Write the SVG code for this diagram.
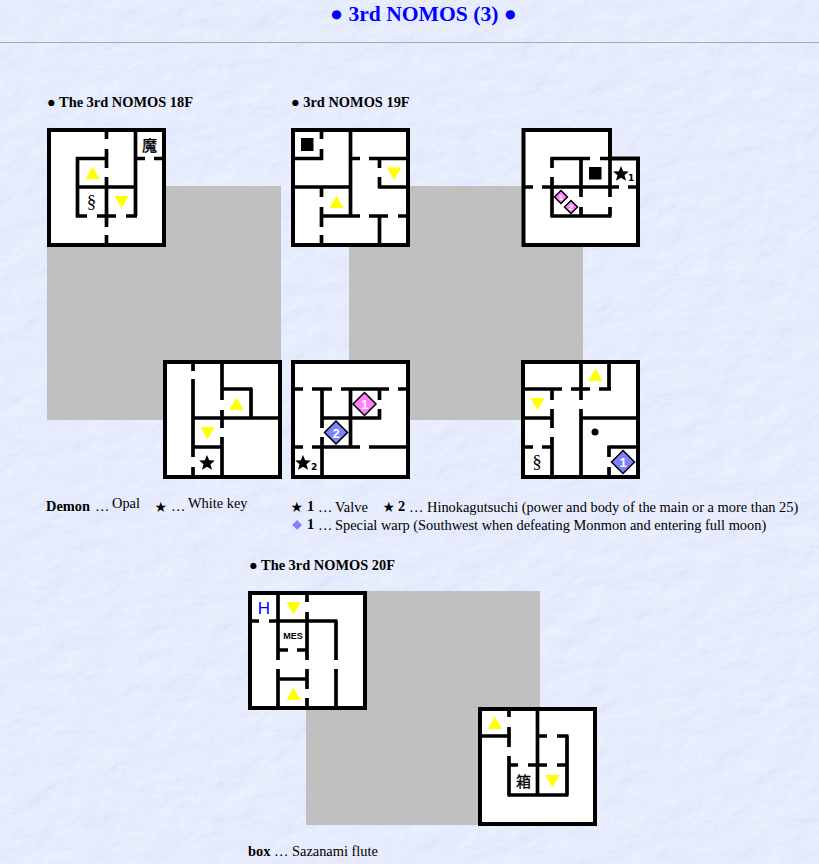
<svg xmlns="http://www.w3.org/2000/svg" width="819" height="864" viewBox="0 0 819 864">
<style>
text{font-family:"Liberation Serif","Noto Sans CJK JP",serif;font-size:14.4px;fill:#000}
.b{font-weight:bold}
.title{font-size:21.6px;font-weight:bold;fill:#0000ff}
.outer{fill:#fff;stroke:#000;stroke-width:4}
.wall{fill:none;stroke:#000;stroke-width:3.7}
.gray{fill:#c0c0c0}
.y{fill:#ffff00}
.k{fill:#000}
.pink{fill:#ff80ff;stroke:#000;stroke-width:1.5}
.blue{fill:#8080ff;stroke:#000;stroke-width:1.5}
.num{font-family:"Liberation Sans",sans-serif;font-weight:bold;fill:#fff;text-anchor:middle}
.sub{font-family:"DejaVu Sans",sans-serif;font-weight:bold;font-size:9px}
.sym{text-anchor:middle}
.kanji{text-anchor:middle;font-size:15px;stroke:#000;stroke-width:.3}
.sec{text-anchor:middle;font-size:19px}
.star{font-size:11.5px}
</style>
<defs>
<filter id="paper" x="0" y="0" width="100%" height="100%" color-interpolation-filters="sRGB">
<feTurbulence type="fractalNoise" baseFrequency="0.03 0.045" numOctaves="4" seed="7"/>
<feDiffuseLighting surfaceScale="1.3" diffuseConstant="1" lighting-color="#fff"><feDistantLight azimuth="45" elevation="60"/></feDiffuseLighting>
<feColorMatrix type="matrix" values="0.3 0 0 0 0.645  0.3 0 0 0 0.665  0.06 0 0 0 0.94  0 0 0 0 1"/>
</filter>
<polygon id="up" points="-7,6 7,6 0,-6.500"/>
<polygon id="dn" points="-7,-6 7,-6 0,6.500"/>
<polygon id="star" points="0,-8 2.200,-2.700 7.800,-2.500 3.500,1.200 5,6.800 0,3.800 -5,6.800 -3.500,1.200 -7.800,-2.500 -2.200,-2.700"/>
<polygon id="dsm" points="0,-6.500 6.500,0 0,6.500 -6.500,0"/>
<polygon id="dlg" points="0,-11.500 11.500,0 0,11.500 -11.500,0"/>
</defs>
<rect id="page-bg" width="819" height="864" fill="#e6eaff" filter="url(#paper)"/>
<text class="title" x="330" y="21">● 3rd NOMOS (3) ●</text>
<rect id="rule" x="0" y="42" width="819" height="1" fill="#aaa"/>

<text class="b" x="47" y="107">● The 3rd NOMOS 18F</text>
<text class="b" x="291" y="107">● 3rd NOMOS 19F</text>
<rect class="gray" x="47" y="186" width="234" height="234"/>
<rect class="gray" x="349" y="186" width="234" height="234"/>

<g id="f18-a">
<rect class="outer" x="49" y="130" width="115" height="115"/>
<path class="wall" d="M106.500 130V139M106.500 149V168M106.500 177V227M106.500 235V244M135.500 130V216M135 158.500H145M154 158.500H164M77.500 157V217.500M76 158.500H106.500M77 187H136M76 216H87M97 216H116M126 216H137"/>
<use href="#up" class="y" x="92.500" y="173"/><use href="#dn" class="y" x="121.500" y="202"/>
<text class="sec" x="91.500" y="208">§</text>
<text class="kanji" x="149.500" y="150.500">魔</text>
</g>

<g id="f19-a">
<rect class="outer" x="293" y="130" width="115" height="115"/>
<path class="wall" d="M321.500 130V139M321.500 149V160M293 158.500H323M350.500 130V216M350 158.500H360M369 158.500H407M379.500 158V168M379.500 177V188.500M379 187H407M293 187H350M321.500 187V197M321.500 207V227M321.500 235V244M322 216H360M369 216H388M398 216H407M379.500 216V244"/>
<rect class="k" x="301" y="138" width="12.500" height="13"/>
<use href="#dn" class="y" x="394" y="173.500"/><use href="#up" class="y" x="336.500" y="202"/>
</g>

<g id="f19-b">
<path class="outer" d="M523.500 130H610V158.500H638V245H523.500Z"/>
<path class="wall" d="M551 158.500H590M600 158.500H610M552 157V168M552 177V217.500M525 187H533M542 187H619M628 187H638M581 158V197M581 207V216M610 158V197M610 207V216M551 216H611.500"/>
<rect class="k" x="589" y="167" width="12.500" height="12.500"/>
<use href="#star" class="k" x="621" y="174"/>
<text class="sub" x="628" y="181">1</text>
<use href="#dsm" class="pink" x="561" y="197"/><text class="num" x="561" y="199.500" style="font-size:7px">1</text>
<use href="#dsm" class="pink" x="571" y="207"/><text class="num" x="571" y="209.500" style="font-size:7px">2</text>
</g>

<g id="f18-b">
<rect class="outer" x="165" y="362" width="115" height="115"/>
<path class="wall" d="M193 362V371M193 379V457M193 467V476M222 362V400M222 410V428M222 437V476M222 389H252.500M251 389V419M193 418H278M193 447H222"/>
<use href="#up" class="y" x="236.500" y="404"/><use href="#dn" class="y" x="207.500" y="433"/>
<use href="#star" class="k" x="207" y="463"/>
</g>

<g id="f19-c">
<rect class="outer" x="293" y="362" width="115" height="115"/>
<path class="wall" d="M293 389H303M312 389H332M341 389H389M398 389H407M322 389V428M322 437V476M350.500 389V447M379.500 389V400M379.500 409V419.500M322 418H381M293 447H303M312 447H360M369 447H407"/>
<use href="#dlg" class="pink" x="364.500" y="404"/><text class="num" x="364.500" y="409" style="font-size:13px">1</text>
<use href="#dlg" class="blue" x="336" y="432.500"/><text class="num" x="336" y="437.500" style="font-size:13px">2</text>
<use href="#star" class="k" x="303" y="463"/>
<text class="sub" x="311" y="470">2</text>
</g>

<g id="f19-d">
<rect class="outer" x="523" y="362" width="115" height="115"/>
<path class="wall" d="M523 389H562M571 389H590M599 389H611M581 362V400M581 409V476M609 362V390M552 389V400M552 409V428M552 437V476M523 418H552M581 418H637M523 447H533M542 447H552M609 445.500V457M609 467V476M609 447H637"/>
<use href="#up" class="y" x="595.500" y="375"/><use href="#dn" class="y" x="537.500" y="404"/>
<circle class="k" cx="595" cy="432" r="3.500"/>
<text class="sec" x="537" y="468">§</text>
<use href="#dlg" class="blue" x="623" y="462"/><text class="num" x="623" y="467" style="font-size:13px">1</text>
</g>

<text class="b" x="46" y="511">Demon</text><text x="95" y="511">…</text><text x="112" y="508">Opal</text>
<text class="star" x="155" y="511">★</text><text x="171" y="511">…</text><text x="188" y="508">White key</text>
<text class="star" x="291" y="511">★</text><text class="b" x="307" y="511">1</text><text x="318" y="512">…</text><text x="335" y="512">Valve</text>
<text class="star" x="383" y="511">★</text><text class="b" x="398" y="511">2</text><text x="409" y="512">…</text><text x="427" y="512">Hinokagutsuchi (power and body of the main or a more than 25)</text>
<text class="star" x="292" y="529" style="fill:#8080ff;font-size:10px">◆</text><text class="b" x="307" y="529">1</text><text x="318" y="530">…</text><text x="335" y="530">Special warp (Southwest when defeating Monmon and entering full moon)</text>

<text class="b" x="249" y="570">● The 3rd NOMOS 20F</text>
<rect class="gray" x="306" y="591" width="234" height="234"/>

<g id="f20-a">
<rect class="outer" x="250" y="593" width="115" height="115"/>
<path class="wall" d="M278 593V660M278 669V708M307 593V602M307 612V660M307 669V689M307 698V707M250 621H259M269 621H337.500M336 621V660M336 669V707M278 650H288M297 650H308.500M278 679H308.500"/>
<text x="264" y="613.500" style="font-family:'Liberation Sans',sans-serif;font-size:17px;fill:#0000ff;text-anchor:middle">H</text>
<use href="#dn" class="y" x="293.500" y="608"/><use href="#up" class="y" x="293.500" y="694"/>
<text class="sym" x="293" y="638.500" style="font-family:'Liberation Sans',sans-serif;font-weight:bold;font-size:9px">MES</text>
</g>

<g id="f20-b">
<rect class="outer" x="480" y="709" width="115" height="115"/>
<path class="wall" d="M509 709V717M509 727V747M509 756V795M480 736H510M537.500 709V795M537 736H547M557 736H568.500M567 736V795M509 765H518M528 765H547M557 765H567M507.500 795H568.500"/>
<use href="#up" class="y" x="495" y="723"/><use href="#dn" class="y" x="552.500" y="781"/>
<text class="kanji" x="523.500" y="786.500">箱</text>
</g>

<text class="b" x="248" y="856">box</text><text x="274" y="856">… Sazanami flute</text>
</svg>
